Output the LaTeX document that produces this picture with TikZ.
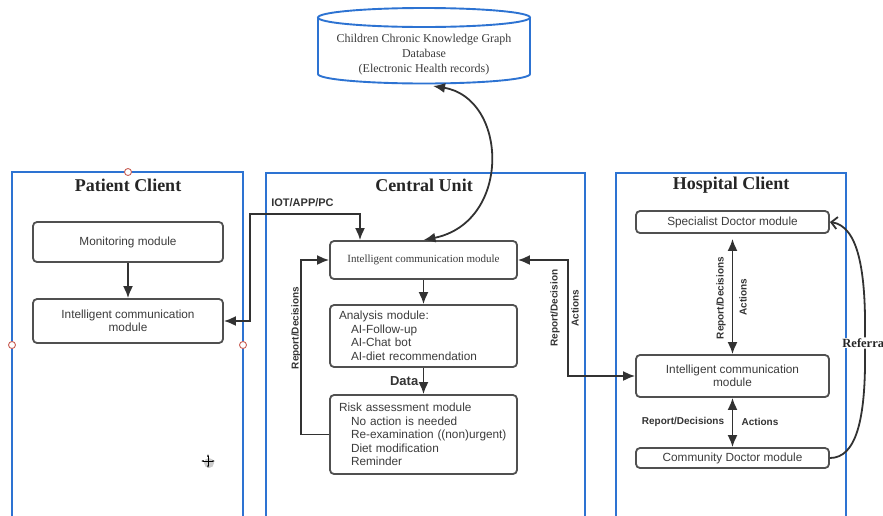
\documentclass[tikz,border=0pt]{standalone}
\usepackage{fontspec}
\setmainfont{Liberation Sans}
\newfontfamily\serifface{Liberation Serif}
\usepackage{tikz}
\usetikzlibrary{arrows.meta, positioning, shapes.geometric}
\definecolor{framblue}{RGB}{45,115,210}
\definecolor{boxgray}{RGB}{80,80,80}
\definecolor{txtgray}{RGB}{60,60,60}
\definecolor{arrgray}{RGB}{50,50,50}
\definecolor{handred}{RGB}{200,95,85}

\begin{document}
\begin{tikzpicture}[x=1pt, y=-1pt,
    frame/.style={draw=framblue, line width=1.9pt},
    title/.style={font=\serifface\bfseries\fontsize{18}{20}\selectfont, text=black!85},
    modbox/.style={draw=boxgray, line width=1.8pt, rounded corners=4pt, fill=white, text=txtgray,
        font=\fontsize{11.8}{13.5}\selectfont, inner sep=0pt, align=center},
    flow/.style={draw=arrgray, line width=1.8pt, >={Latex[length=12pt,width=10pt]}},
    lbl/.style={font=\bfseries\fontsize{10}{12}\selectfont, text=black!80},
    handle/.style={draw=handred, fill=white, line width=0.9pt}
]
            \useasboundingbox (0,0) rectangle (883,515);
            \clip (0,0) rectangle (883,515);

            % Database (cylinder)
            \draw[frame, fill=white] (318,17.5) -- (318,74) arc[start angle=180, end angle=0, x radius=106, y radius=9.5] -- (530,17.5);
            \draw[frame] (424,17.5) ellipse [x radius=106, y radius=9.5];
            \node[font=\serifface\fontsize{12}{15}\selectfont, text=txtgray, align=center] (db) at (424,55) {Children Chronic Knowledge Graph\\Database\\(Electronic Health records)};
            \coordinate (dbBot) at (433,86);

            % Three frames
            \draw[frame] (12,530) -- (12,172) -- (243,172) -- (243,530);
            \draw[frame] (266,530) -- (266,173) -- (585,173) -- (585,530);
            \draw[frame] (616,530) -- (616,173) -- (846,173) -- (846,530);
            \node[title] (patTitle) at (128,185) {Patient Client};
            \node[title] (cenTitle) at (424,185) {Central Unit};
            \node[title] (hosTitle) at (731,185) {Hospital Client};

            % Patient client
            \node[modbox, minimum width=190pt, minimum height=40pt] (patMon) at (128,242) {Monitoring module};
            \node[modbox, minimum width=190pt, minimum height=44pt] (patICM) at (128,321) {Intelligent communication\\module};

            % Central unit
            \node[modbox, minimum width=187pt, minimum height=38pt, font=\serifface\fontsize{11}{13}\selectfont] (cenICM) at (423.5,260) {Intelligent communication module};
            \node[modbox, minimum width=187pt, minimum height=62pt, text width=169pt, align=left] (cenAna) at (423.5,336)
                {Analysis module:\\ \hspace*{12pt}AI-Follow-up\\ \hspace*{12pt}AI-Chat bot\\ \hspace*{12pt}AI-diet recommendation};
            \node[modbox, minimum width=187pt, minimum height=79pt, text width=169pt, align=left] (cenRisk) at (423.5,434.5)
                {Risk assessment module\\ \hspace*{12pt}No action is needed\\ \hspace*{12pt}Re-examination ((non)urgent)\\ \hspace*{12pt}Diet modification\\ \hspace*{12pt}Reminder};

            % Hospital client
            \node[modbox, minimum width=193pt, minimum height=22pt] (hosSpec) at (732.5,222) {Specialist Doctor module};
            \node[modbox, minimum width=193pt, minimum height=42pt] (hosICM) at (732.5,376) {Intelligent communication\\module};
            \node[modbox, minimum width=193pt, minimum height=20pt] (hosCom) at (732.5,458) {Community Doctor module};

            % Connectors
            \draw[flow,->] (patMon) -- (patICM);
            \coordinate (iot) at (360,214);
            \draw[flow,<->] (patICM.east) -- ++(26,0) |- (iot) -- (iot |- cenICM.north);
            \node[lbl, font=\bfseries\fontsize{11}{13}\selectfont] (iotLbl) at (302.5,203) {IOT/APP/PC};

            \draw[flow,<->] (cenICM.north) .. controls (512,222) and (508,98) .. (dbBot);

            \draw[flow,->] (cenICM) -- (cenAna);
            \draw[flow,->] (cenAna) -- node[left=1pt, font=\bfseries\fontsize{13}{15}\selectfont, text=black!80] (dataLbl) {Data} (cenRisk);
            \draw[flow,->] (cenRisk.west) -- ++(-28,0) |- (cenICM.west);
            \node[lbl, rotate=90] (cenRep) at (296,328) {Report/Decisions};

            \draw[flow,<->] (cenICM.east) -- ++(50,0) |- (hosICM.west);
            \node[lbl, rotate=90] (midRep) at (555,308) {Report/Decision};
            \node[lbl, rotate=90] (midAct) at (575,308) {Actions};

            \draw[flow,<->, shorten <=5pt] (hosSpec) -- (hosICM);
            \node[lbl, rotate=90] (hosRep) at (721,298) {Report/Decisions};
            \node[lbl, rotate=90] (hosAct) at (743,297) {Actions};

            \draw[flow,<->] (hosICM) -- (hosCom);
            \node[lbl] (comRep) at (683,422) {Report/Decisions};
            \node[lbl] (comAct) at (760,422) {Actions};

            % Referral (cut by the right edge, as in the source)
            \node[fill=white, inner sep=1pt, font=\serifface\bfseries\fontsize{12.5}{14}\selectfont, text=black!85] (refer) at (865,343) {Referral};
            \draw[flow] (hosCom.east) .. controls (856,458) and (866,420) .. (refer.south);
            \draw[flow, -{Straight Barb[length=6pt,width=12pt]}] (refer.north) .. controls (866,270) and (858,226) .. (hosSpec.east);

            % Selection handles and cursor
            \draw[handle] (128,172) circle (3.5pt);
            \draw[handle] (12,345) circle (3.5pt);
            \draw[handle] (243,345) circle (3.5pt);
            \fill[black!20] (209,463) circle (5pt);
            \draw[line width=0.8pt, {Latex[length=2.5pt]}-{Latex[length=2.5pt]}] (201,461) -- (215,461);
            \draw[line width=0.8pt, {Latex[length=2.5pt]}-{Latex[length=2.5pt]}] (208,454) -- (208,468);

\end{tikzpicture}
\end{document}
